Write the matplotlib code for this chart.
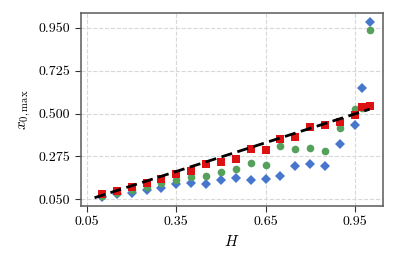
import matplotlib
matplotlib.use('Agg')
from matplotlib import pyplot as plt

plt.rcParams['font.family'] = 'serif'
plt.rcParams['font.serif'] = ['cmr10', 'DejaVu Serif']
plt.rcParams['mathtext.fontset'] = 'cm'
plt.rcParams['axes.formatter.use_mathtext'] = True

H = [0.10, 0.15, 0.20, 0.25, 0.30, 0.35, 0.40, 0.45, 0.50, 0.55,
     0.60, 0.65, 0.70, 0.75, 0.80, 0.85, 0.90, 0.95, 0.975, 1.0]
blue = [0.064, 0.076, 0.085, 0.099, 0.110, 0.132, 0.138, 0.132, 0.152, 0.162,
        0.152, 0.155, 0.173, 0.226, 0.236, 0.226, 0.339, 0.440, 0.633, 0.980]
green = [0.069, 0.085, 0.099, 0.117, 0.136, 0.150, 0.166, 0.174, 0.195, 0.208,
         0.241, 0.229, 0.328, 0.314, 0.320, 0.306, 0.425, 0.526, 0.530, 0.941]
red = [0.076, 0.094, 0.117, 0.138, 0.157, 0.183, 0.197, 0.234, 0.248, 0.260,
       0.313, 0.307, 0.365, 0.379, 0.432, 0.440, 0.458, 0.490, 0.537, 0.542]
line_h = [0.075, 1.0]
line_y = [0.058, 0.523]

xticks = [0.05, 0.35, 0.65, 0.95]
yticks = [0.050, 0.275, 0.500, 0.725, 0.950]

fig = plt.figure(figsize=(3.97, 2.64), dpi=100)
ax = fig.add_axes([0.203, 0.220, 0.7625, 0.732])

ax.plot(H, blue, 'D', color='#4677cc', markersize=5.5, markeredgewidth=0, zorder=3)
ax.plot(H, green, 'o', color='#55a05a', markersize=5.5, markeredgewidth=0, zorder=3)
ax.plot(H, red, 's', color='#dd1111', markersize=5.5, markeredgewidth=0, zorder=3)
ax.plot(line_h, line_y, '--', color='black', linewidth=2, dashes=(4, 2), zorder=4)

ax.set_xlim(0.028, 1.046)
ax.set_ylim(0.015, 1.03)
ax.set_xticks(xticks)
ax.set_xticklabels(['%.2f' % t for t in xticks])
ax.set_yticks(yticks)
ax.set_yticklabels(['%.3f' % t for t in yticks])
ax.grid(True, linestyle='--', color='#d8d8d8', linewidth=0.8)
ax.set_axisbelow(True)
for s in ax.spines.values():
    s.set_color('#5a5a5a')
    s.set_linewidth(1.1)
ax.tick_params(axis='both', labelsize=10, direction='out', length=4, color='#333333')

ax.set_xlabel('$H$', fontsize=11)
ax.set_ylabel(r'$x_{0,\mathrm{max}}$', fontsize=11)

fig.savefig('out.png', dpi=100)
